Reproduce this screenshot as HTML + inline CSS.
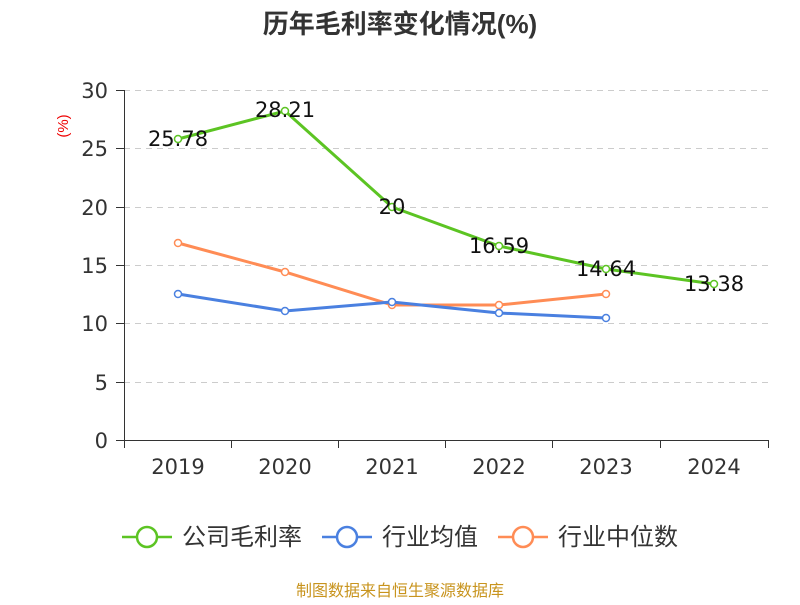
<!DOCTYPE html>
<html><head><meta charset="utf-8"><style>
body{margin:0;background:#fff;width:800px;height:600px;overflow:hidden}
svg text{font-family:"Liberation Sans","Noto Sans CJK SC",sans-serif}
svg .n{font-family:"DejaVu Sans",sans-serif}
</style></head><body>
<svg width="800" height="600" viewBox="0 0 800 600">
<text x="400" y="33" text-anchor="middle" font-size="26" font-weight="bold" fill="#333">历年毛利率变化情况(%)</text>
<text x="68" y="126" text-anchor="middle" font-size="15" fill="#e00" transform="rotate(-90 68 126)">(%)</text>
<g stroke="#ccc" stroke-dasharray="6,5" stroke-width="1">
<line x1="124" y1="90.5" x2="768" y2="90.5"/><line x1="124" y1="148.5" x2="768" y2="148.5"/>
<line x1="124" y1="207.5" x2="768" y2="207.5"/><line x1="124" y1="265.5" x2="768" y2="265.5"/>
<line x1="124" y1="323.5" x2="768" y2="323.5"/><line x1="124" y1="382.5" x2="768" y2="382.5"/>
</g>
<g stroke="#333" stroke-width="1">
<line x1="124.5" y1="90" x2="124.5" y2="440"/><line x1="124" y1="440.5" x2="769" y2="440.5"/>
<line x1="116" y1="90.5" x2="124" y2="90.5"/><line x1="116" y1="148.5" x2="124" y2="148.5"/><line x1="116" y1="207.5" x2="124" y2="207.5"/><line x1="116" y1="265.5" x2="124" y2="265.5"/><line x1="116" y1="323.5" x2="124" y2="323.5"/><line x1="116" y1="382.5" x2="124" y2="382.5"/><line x1="116" y1="440.5" x2="124" y2="440.5"/>
<line x1="124.5" y1="440" x2="124.5" y2="448"/><line x1="231.5" y1="440" x2="231.5" y2="448"/><line x1="338.5" y1="440" x2="338.5" y2="448"/><line x1="445.5" y1="440" x2="445.5" y2="448"/><line x1="552.5" y1="440" x2="552.5" y2="448"/><line x1="660.5" y1="440" x2="660.5" y2="448"/><line x1="768.5" y1="440" x2="768.5" y2="448"/>
</g>
<g class="n" font-size="21" fill="#333" text-anchor="end">
<text class="n" x="108" y="98">30</text><text class="n" x="108" y="156">25</text><text class="n" x="108" y="215">20</text><text class="n" x="108" y="273">15</text><text class="n" x="108" y="331">10</text><text class="n" x="108" y="390">5</text><text class="n" x="108" y="448">0</text>
</g>
<g font-size="21" fill="#333" text-anchor="middle">
<text class="n" x="178" y="474">2019</text><text class="n" x="285" y="474">2020</text><text class="n" x="392" y="474">2021</text><text class="n" x="499" y="474">2022</text><text class="n" x="606" y="474">2023</text><text class="n" x="714" y="474">2024</text>
</g>
<g fill="none" stroke-width="3">
<polyline stroke="#ff8c55" points="178,243 285,272 392,305 499,305 606,294"/>
<polyline stroke="#4a80e0" points="178,294 285,311 392,302 499,313 606,318"/>
<polyline stroke="#5cc423" points="178,139 285,111 392,207 499,246 606,269 714,284"/>
</g>
<g fill="#fff" stroke-width="1.5">
<g stroke="#ff8c55"><circle cx="178" cy="243" r="3.5"/><circle cx="285" cy="272" r="3.5"/><circle cx="392" cy="305" r="3.5"/><circle cx="499" cy="305" r="3.5"/><circle cx="606" cy="294" r="3.5"/></g>
<g stroke="#4a80e0"><circle cx="178" cy="294" r="3.5"/><circle cx="285" cy="311" r="3.5"/><circle cx="392" cy="302" r="3.5"/><circle cx="499" cy="313" r="3.5"/><circle cx="606" cy="318" r="3.5"/></g>
<g stroke="#5cc423"><circle cx="178" cy="139" r="3.5"/><circle cx="285" cy="111" r="3.5"/><circle cx="392" cy="207" r="3.5"/><circle cx="499" cy="246" r="3.5"/><circle cx="606" cy="269" r="3.5"/><circle cx="714" cy="284" r="3.5"/></g>
</g>
<g font-size="21" fill="#111" text-anchor="middle">
<text class="n" x="178" y="146">25.78</text><text class="n" x="285" y="117">28.21</text><text class="n" x="392" y="214">20</text><text class="n" x="499" y="253">16.59</text><text class="n" x="606" y="276">14.64</text><text class="n" x="714" y="291">13.38</text>
</g>
<g stroke-width="2.5" fill="#fff">
<line x1="122" y1="537" x2="172" y2="537" stroke="#5cc423"/><circle cx="147" cy="537" r="10" stroke="#5cc423"/>
<line x1="322" y1="537" x2="372" y2="537" stroke="#4a80e0"/><circle cx="347" cy="537" r="10" stroke="#4a80e0"/>
<line x1="498" y1="537" x2="548" y2="537" stroke="#ff8c55"/><circle cx="523" cy="537" r="10" stroke="#ff8c55"/>
</g>
<g font-size="24" fill="#333">
<text x="182" y="545">公司毛利率</text><text x="382" y="545">行业均值</text><text x="558" y="545">行业中位数</text>
</g>
<text x="400" y="596" text-anchor="middle" font-size="16" fill="#c8941e">制图数据来自恒生聚源数据库</text>
</svg>
</body></html>
